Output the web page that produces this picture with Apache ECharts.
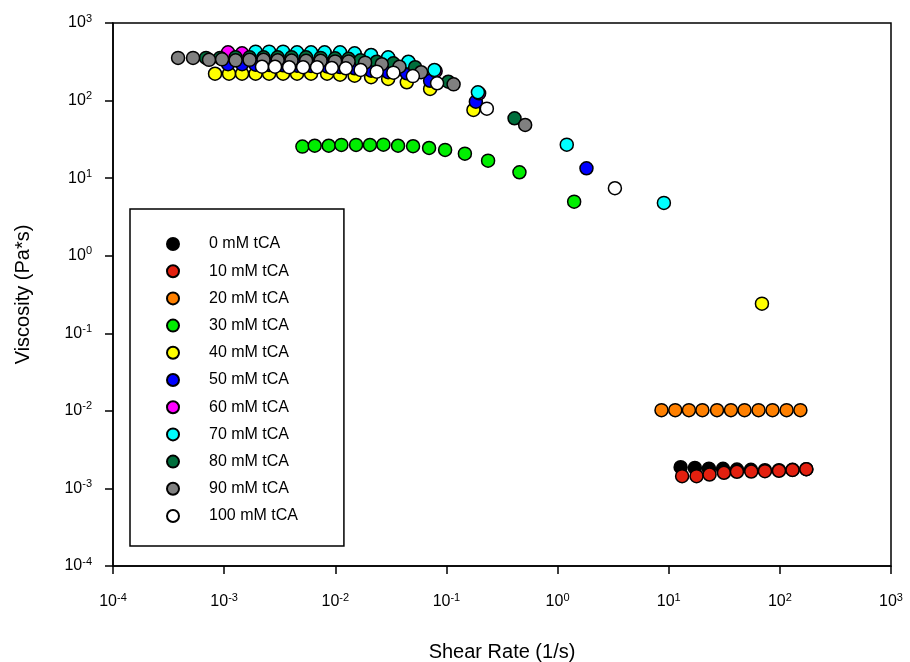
<!DOCTYPE html>
<html>
<head>
<meta charset="utf-8">
<title>Viscosity vs Shear Rate</title>
<script src="https://cdn.jsdelivr.net/npm/echarts@6/dist/echarts.min.js"></script>
<style>
  html, body { margin: 0; padding: 0; background: #fff; }
  #chart { width: 910px; height: 662px; }
</style>
</head>
<body>
<div id="chart"></div>
<script>
// Flow curves: viscosity (Pa*s) against shear rate (1/s) for each tCA concentration
const seriesNames = ['0 mM tCA', '10 mM tCA', '20 mM tCA', '30 mM tCA', '40 mM tCA', '50 mM tCA',
  '60 mM tCA', '70 mM tCA', '80 mM tCA', '90 mM tCA', '100 mM tCA'];
const seriesColors = ['#000000', '#e3200f', '#ff8000', '#00ee00', '#ffff00', '#0000ff',
  '#ff00ff', '#00ffff', '#006e3c', '#808080', '#ffffff'];

const rate0 = [12.8, 17.2, 23.0, 30.8, 41.1, 54.9, 73.4, 98.2, 130, 173];
const visc0 = [0.00188, 0.00184, 0.00180, 0.00179, 0.00175, 0.00174, 0.00172, 0.00172, 0.00174, 0.00177];

const rate10 = [13.2, 17.8, 23.3, 31.4, 41.1, 55.3, 73.4, 98.2, 130, 173];
const visc10 = [0.00144, 0.00144, 0.00151, 0.00159, 0.00164, 0.00165, 0.00167, 0.00169, 0.00173, 0.00177];

const rate20 = [8.61, 11.45, 15.2, 20.1, 27.2, 36.3, 48.1, 64.3, 85.9, 115, 153];
const visc20 = [0.0102, 0.0102, 0.0102, 0.0102, 0.0102, 0.0102, 0.0102, 0.0102, 0.0102, 0.0102, 0.0102];

const rate30 = [0.00506, 0.00653, 0.00873, 0.01135, 0.01538, 0.0205, 0.0271, 0.0367, 0.0501, 0.0698,
  0.0973, 0.1466, 0.237, 0.454, 1.41];
const visc30 = [25.5, 26.2, 26.2, 26.8, 26.8, 26.8, 27.0, 26.2, 25.8, 24.5, 23.1, 20.7, 16.8, 11.9, 4.98];

const rate40 = [0.000828, 0.001107, 0.001449, 0.001919, 0.00254, 0.00339, 0.00453, 0.00605, 0.00844,
  0.01104, 0.01492, 0.0210, 0.0299, 0.0440, 0.0713, 0.175, 69.0];
const visc40 = [222, 222, 222, 222, 222, 222, 222, 222, 222, 216, 209, 200, 190, 172, 141, 75.6, 0.241];

const rate50 = [0.001084, 0.001449, 0.001919, 0.00254, 0.00339, 0.00453, 0.00605, 0.00844, 0.01104,
  0.01492, 0.0210, 0.0299, 0.0440, 0.0713, 0.184, 1.82];
const visc50 = [294, 294, 290, 288, 285, 282, 280, 275, 270, 261, 243, 232, 225, 180, 96.8, 13.4];

const rate60 = [0.001084, 0.001449, 0.001919, 0.00254, 0.00339, 0.00453, 0.00605, 0.00801, 0.01104,
  0.01492, 0.0210, 0.0299, 0.0455, 0.0800, 0.197];
const visc60 = [419, 407, 410, 410, 410, 405, 405, 405, 405, 395, 380, 355, 310, 240, 124];

const rate70 = [0.001919, 0.00254, 0.00339, 0.00453, 0.00605, 0.00801, 0.01104, 0.01492, 0.0210,
  0.0299, 0.0455, 0.0780, 0.192, 1.21, 9.05];
const visc70 = [427, 427, 427, 419, 419, 419, 419, 407, 387, 361, 317, 248, 128, 27.0, 4.79];

const rate80 = [0.000687, 0.000919, 0.001268, 0.001694, 0.00226, 0.00303, 0.00404, 0.00546, 0.00738,
  0.00996, 0.01318, 0.0169, 0.0236, 0.0333, 0.0523, 0.104, 0.410];
const visc80 = [355, 355, 361, 361, 361, 361, 361, 361, 355, 350, 345, 330, 317, 302, 269, 175, 59.1];

const rate90 = [0.000385, 0.000525, 0.000731, 0.000958, 0.001268, 0.001694, 0.00226, 0.00303, 0.00404,
  0.00546, 0.00738, 0.00996, 0.01318, 0.01855, 0.0262, 0.0378, 0.0592, 0.116, 0.511];
const visc90 = [355, 355, 335, 340, 330, 335, 335, 330, 328, 326, 325, 320, 318, 308, 294, 273, 232, 162, 48.5];

const rate100 = [0.00219, 0.00287, 0.00384, 0.00513, 0.00685, 0.00930, 0.01244, 0.0169, 0.0236,
  0.0333, 0.0499, 0.0824, 0.231, 3.28];
const visc100 = [273, 273, 269, 269, 269, 263, 261, 248, 236, 229, 207, 167, 78.7, 7.41];

const rates = [rate0, rate10, rate20, rate30, rate40, rate50, rate60, rate70, rate80, rate90, rate100];
const viscs = [visc0, visc10, visc20, visc30, visc40, visc50, visc60, visc70, visc80, visc90, visc100];

const FONT = '"Liberation Sans", Arial, sans-serif';

// Decade labels written as 10 with a raised exponent
function powLabel(value) {
  const e = Math.round(Math.log10(value));
  return '{b|10}{s|' + e + '}';
}
const powRich = {
  b: { fontFamily: FONT, fontSize: 16, color: '#000', lineHeight: 22 },
  s: { fontFamily: FONT, fontSize: 11, color: '#000', lineHeight: 22, padding: [0, 0, 9, 0] }
};

const chart = echarts.init(document.getElementById('chart'), null, { renderer: 'canvas' });

const series = seriesNames.map((name, i) => ({
  name: name,
  type: 'scatter',
  symbol: 'circle',
  symbolSize: 13,
  data: rates[i].map((r, k) => [r, viscs[i][k]]),
  itemStyle: { color: seriesColors[i], borderColor: '#000', borderWidth: 1.5, opacity: 1 },
  emphasis: { disabled: true },
  z: 2 + i
}));

chart.setOption({
  animation: false,
  backgroundColor: '#ffffff',
  grid: {
    left: 113, right: 19, top: 23, bottom: 96,
    outerBoundsMode: 'none', containLabel: false,
    show: true, borderColor: '#000', borderWidth: 1.5
  },
  xAxis: {
    type: 'log', logBase: 10, min: 1e-4, max: 1e3,
    name: 'Shear Rate (1/s)', nameLocation: 'middle', nameGap: 76,
    nameTextStyle: { fontFamily: FONT, fontSize: 20, color: '#000' },
    axisLine: { show: true, lineStyle: { color: '#000', width: 1.5 } },
    axisTick: { show: true, inside: false, length: 8, lineStyle: { color: '#000', width: 1.5 } },
    minorTick: { show: false },
    splitLine: { show: false },
    axisLabel: { margin: 25, formatter: powLabel, rich: powRich }
  },
  yAxis: {
    type: 'log', logBase: 10, min: 1e-4, max: 1e3,
    name: 'Viscosity (Pa*s)', nameLocation: 'middle', nameGap: 80, nameRotate: 90,
    nameTextStyle: { fontFamily: FONT, fontSize: 20, color: '#000' },
    axisLine: { show: true, lineStyle: { color: '#000', width: 1.5 } },
    axisTick: { show: true, inside: false, length: 8, lineStyle: { color: '#000', width: 1.5 } },
    minorTick: { show: false },
    splitLine: { show: false },
    axisLabel: { margin: 21, formatter: powLabel, rich: powRich }
  },
  legend: {
    orient: 'vertical',
    left: 130, top: 209,
    padding: [27, 46, 22, 36],
    itemWidth: 12, itemHeight: 12, itemGap: 11.2,
    icon: 'circle',
    backgroundColor: '#fff',
    borderColor: '#000', borderWidth: 1.5,
    textStyle: { fontFamily: FONT, fontSize: 16, color: '#000', padding: [0, 0, 0, 25] },
    data: seriesNames
  },
  series: series
});
</script>
</body>
</html>
